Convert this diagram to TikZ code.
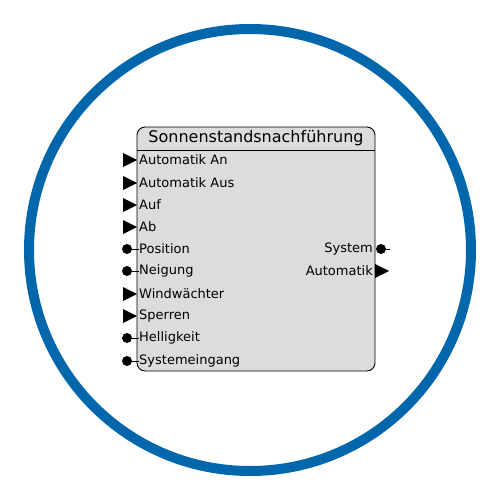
\documentclass[tikz,border=0pt]{standalone}
\usepackage{fontspec}
\setmainfont{DejaVu Sans}
\usetikzlibrary{positioning,calc}
\definecolor{ringblue}{RGB}{0,103,172}
\definecolor{blockgray}{RGB}{220,220,220}
\tikzset{
  pinlabel/.style={font=\fontsize{13}{15}\selectfont, inner sep=0pt},
  pinwire/.style={line width=0.8pt},
  pindot/.style={circle, fill=black, inner sep=0pt, minimum size=10pt},
}

\begin{document}
\begin{tikzpicture}[x=1pt, y=-1pt]
    \useasboundingbox (0,0) rectangle (500,500);
    % ring
    \draw[ringblue, line width=10pt] (250,250) circle (221);

    % block body and title
    \draw[fill=blockgray, line width=0.9pt, rounded corners=8pt] (137,127) rectangle (375,371);
    \draw[line width=0.8pt] (137,150) -- (375,150);
    \node[font=\fontsize{16}{18}\selectfont, inner sep=0pt] (title) at (256,138) {Sonnenstandsnachführung};

    % inputs with triangle pins
    \foreach \name/\y/\txt in {ia/160/Automatik An, ib/183/Automatik Aus, ic/205/Auf, id/227/Ab, ig/294/Windwächter, ih/316/Sperren} {
        \node[pinlabel, anchor=west] (\name) at (139,\y) {\txt};
        \fill (123,\y-7) -- (137,\y) -- (123,\y+7) -- cycle;
    }

    % inputs with dot pins
    \foreach \name/\y/\txt in {ie/249/Position, if/271/Neigung, ii/338/Helligkeit, ij/361/Systemeingang} {
        \node[pinlabel, anchor=west] (\name) at (139,\y) {\txt};
        \node[pindot] (\name dot) at (127,\y) {};
        \draw[pinwire] (\name dot) -- (\name.west);
    }

    % outputs
    \node[pinlabel, anchor=east] (oa) at (373,249) {System};
    \node[pindot] (oadot) at (381,249) {};
    \coordinate (oaend) at (390,249);
    \draw[pinwire] (oadot) -- (oaend);

    \node[pinlabel, anchor=east] (ob) at (373,271) {Automatik};
    \fill (375,264) -- (389,271) -- (375,278) -- cycle;
\end{tikzpicture}
\end{document}
